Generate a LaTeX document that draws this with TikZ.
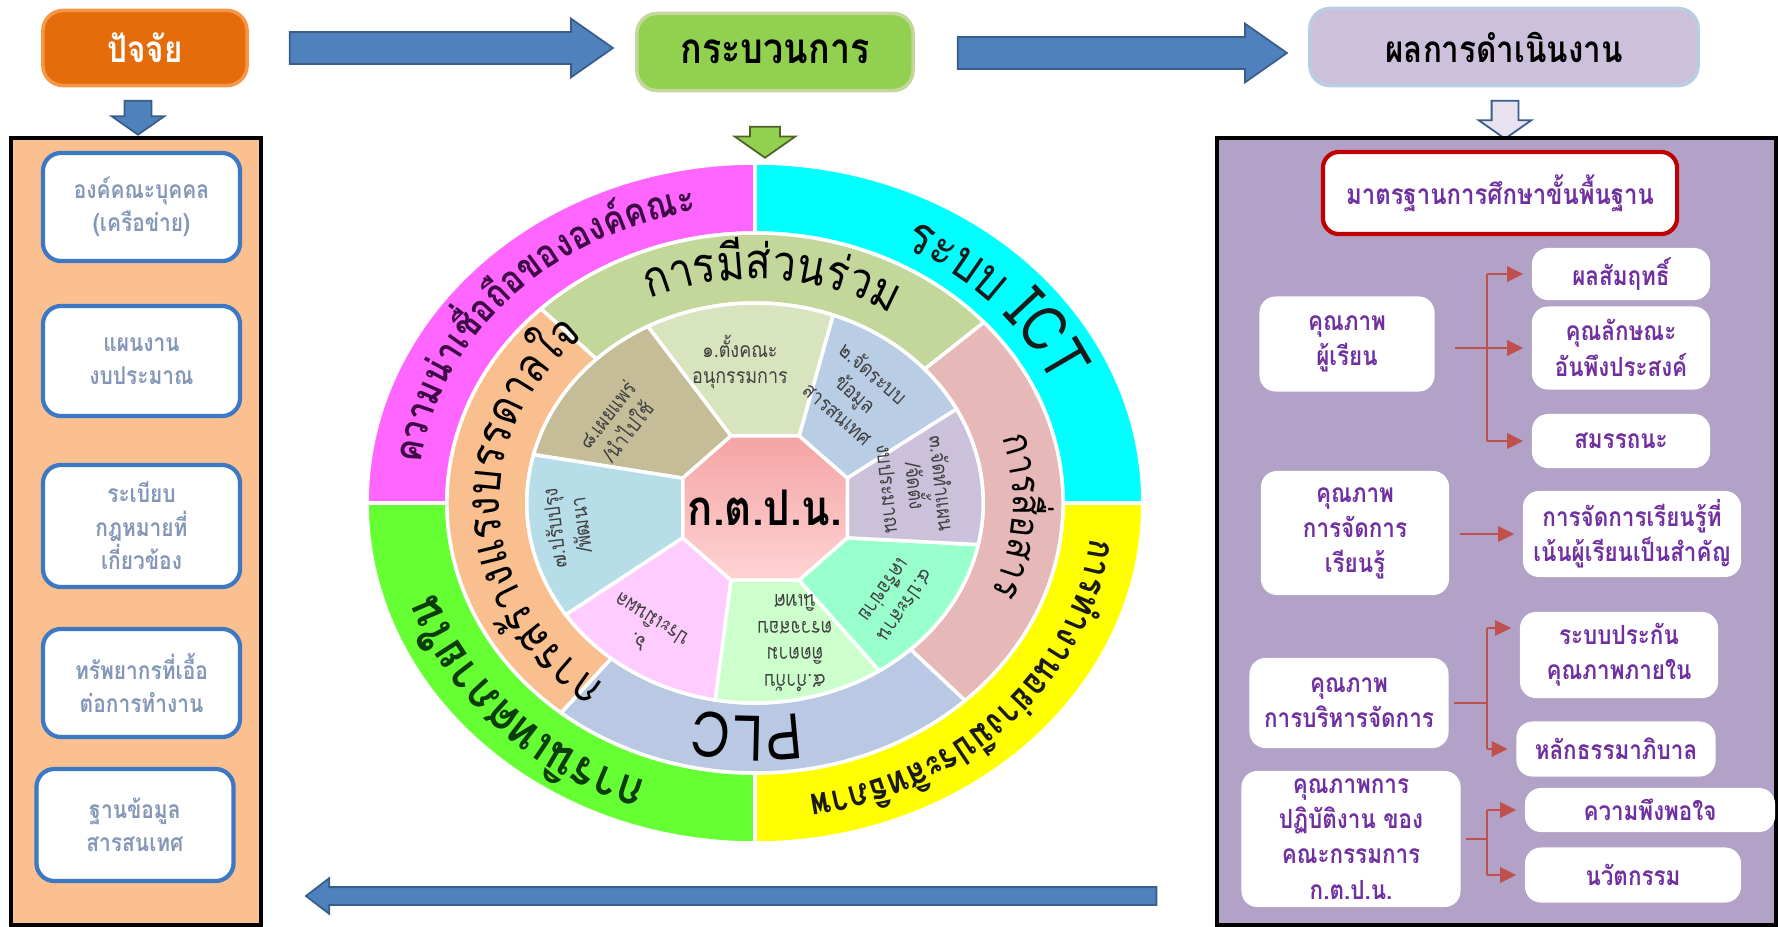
\documentclass[tikz,border=0pt]{standalone}
\usepackage{fontspec}
\setmainfont[Script=Thai, FakeStretch=0.85]{Loma}
\usetikzlibrary{shapes.arrows, arrows.meta, decorations.text}

\definecolor{factorbg}{HTML}{E46C0A}
\definecolor{factoredge}{HTML}{F79646}
\definecolor{processbg}{HTML}{92D050}
\definecolor{processedge}{HTML}{C3D69B}
\definecolor{processdark}{HTML}{4F6228}
\definecolor{resultbg}{HTML}{CCC0DA}
\definecolor{resultedge}{HTML}{B9CDE5}
\definecolor{resultlight}{HTML}{E8E2F0}
\definecolor{arrowblue}{HTML}{4F81BD}
\definecolor{arrowedge}{HTML}{385D8A}
\definecolor{leftpanel}{HTML}{FAC090}
\definecolor{rightpanel}{HTML}{B3A2C7}
\definecolor{boxblue}{HTML}{3C78C3}
\definecolor{lefttext}{HTML}{8497B8}
\definecolor{purpletext}{HTML}{7030A0}
\definecolor{redline}{HTML}{C0504D}
\definecolor{stdred}{HTML}{C00000}
\definecolor{ringmag}{HTML}{FF66FF}
\definecolor{ringcyan}{HTML}{00FFFF}
\definecolor{ringyel}{HTML}{FFFF00}
\definecolor{ringgreen}{HTML}{66FF33}
\definecolor{midgreen}{HTML}{C4D79B}
\definecolor{midorange}{HTML}{FABF8F}
\definecolor{midblue}{HTML}{B9C9E3}
\definecolor{midrose}{HTML}{E6B9B8}
\definecolor{inA}{HTML}{D7E4BD}
\definecolor{inB}{HTML}{B9CDE5}
\definecolor{inC}{HTML}{CCC1DA}
\definecolor{inD}{HTML}{99FFCC}
\definecolor{inE}{HTML}{CCFFCC}
\definecolor{inF}{HTML}{FFCCFF}
\definecolor{inG}{HTML}{B7DEE8}
\definecolor{inH}{HTML}{C4BD97}
\definecolor{octtop}{HTML}{FFD3D3}
\definecolor{octbot}{HTML}{F4A4A4}
\definecolor{ringink}{HTML}{1A1A1A}
\definecolor{maginkt}{HTML}{3D0A45}
\definecolor{greenink}{HTML}{0B3D0B}
\definecolor{inink}{HTML}{404040}

\begin{document}
\begin{tikzpicture}[x=0.01cm, y=-0.01cm,
    headbox/.style={rounded corners=2mm, line width=1pt, inner sep=0pt,
      font=\fontsize{10.5}{12}\selectfont\bfseries},
    blockarrow/.style={single arrow, inner xsep=0pt, single arrow tip angle=70,
      fill=arrowblue, draw=arrowedge, line width=0.5pt},
    downarrow/.style={blockarrow, inner ysep=0pt, single arrow tip angle=110, shape border rotate=270},
    panel/.style={draw=black, line width=1.2pt, inner sep=0pt},
    leftbox/.style={fill=white, draw=boxblue, line width=1.2pt, rounded corners=1.8mm,
      minimum width=19.7mm, align=center, text=lefttext, inner sep=0pt,
      font=\fontsize{7}{9.5}\selectfont\bfseries},
    rbox/.style={fill=white, rounded corners=1.6mm, align=center, text=purpletext,
      inner sep=0pt, font=\fontsize{7.5}{10}\selectfont\bfseries},
    branchline/.style={draw=redline, line width=0.8pt},
    redtip/.style={branchline, shorten >=0.8mm, -{Triangle[length=1.6mm, width=1.5mm]}},
    sector/.style={draw=white, line width=1pt},
    ringword/.style={decorate, decoration={text along path, text align=center, text color=#1}},
    intext/.style={inner sep=0pt, align=center, font=\fontsize{6}{7.6}\selectfont, text=inink},
  ]
\useasboundingbox (0,0) rectangle (1778,927);

% header
\node[headbox, fill=factorbg, draw=factoredge, text=white, minimum width=20.4mm,
  minimum height=7.5mm] (factor) at (145,48) {ปัจจัย};
\node[headbox, fill=processbg, draw=processedge, minimum width=27.6mm, minimum height=7.7mm,
  font=\fontsize{12}{14}\selectfont\bfseries] (process) at (775,52) {กระบวนการ};
\node[headbox, fill=resultbg, draw=resultedge, minimum width=38.8mm,
  minimum height=7.7mm] (result) at (1504,47) {ผลการดำเนินงาน};

\node[blockarrow, minimum height=32.3mm, inner ysep=1.5mm,
  single arrow head extend=1.35mm] (toprocess) at (440,48) {};
\node[blockarrow, minimum height=32.9mm, inner ysep=1.5mm,
  single arrow head extend=1.35mm] (toresult) at (1111,53) {};
\node[blockarrow, minimum height=85mm, inner ysep=0.8mm, single arrow head extend=0.9mm,
  single arrow tip angle=75, shape border rotate=180] (feedback) at (737,896) {};

\node[downarrow, minimum height=3.4mm, inner xsep=1.25mm,
  single arrow head extend=1.3mm] (downfactor) at (138,113) {};
\node[downarrow, fill=processbg, draw=processdark, minimum height=3.1mm, inner xsep=1.4mm,
  single arrow head extend=1.55mm] (downprocess) at (765,137) {};
\node[downarrow, fill=resultlight, draw=arrowedge, minimum height=3.8mm, inner xsep=1.25mm,
  single arrow head extend=1.3mm] (downresult) at (1505,115) {};

% factors
\node[panel, fill=leftpanel, minimum width=25mm, minimum height=78.7mm] (factors) at (136,531.5) {};
\node[leftbox, minimum height=10.8mm] (people) at (141.5,207) {องค์คณะบุคคล\\(เครือข่าย)};
\node[leftbox, minimum height=11mm] (plan) at (141.5,361) {แผนงาน\\งบประมาณ};
\node[leftbox, minimum height=12.2mm] (rules) at (141.5,526) {ระเบียบ\\กฎหมายที่\\เกี่ยวข้อง};
\node[leftbox, minimum height=10.8mm] (resources) at (141.5,683) {ทรัพยากรที่เอื้อ\\ต่อการทำงาน};
\node[leftbox, minimum height=11.2mm] (database) at (135,825) {ฐานข้อมูล\\สารสนเทศ};

% results
\node[panel, fill=rightpanel, minimum width=55.9mm, minimum height=78.7mm] (results) at (1496.5,531.5) {};
\node[rbox, draw=stdred, line width=1.2pt, minimum width=35.4mm, minimum height=8.2mm,
  font=\fontsize{8}{10}\selectfont\bfseries] (standard) at (1500,193) {มาตรฐานการศึกษาขั้นพื้นฐาน};
\node[rbox, minimum width=17.5mm, minimum height=9.5mm] (learner) at (1347,344) {คุณภาพ\\ผู้เรียน};
\node[rbox, minimum width=17.8mm, minimum height=5.2mm] (achieve) at (1621,274) {ผลสัมฤทธิ์};
\node[rbox, minimum width=17.8mm, minimum height=8.3mm] (character) at (1621,348) {คุณลักษณะ\\อันพึงประสงค์};
\node[rbox, minimum width=17.8mm, minimum height=5.4mm] (competency) at (1621,441) {สมรรถนะ};
\node[rbox, minimum width=18.8mm, minimum height=12.4mm] (teaching) at (1355,533) {คุณภาพ\\การจัดการ\\เรียนรู้};
\node[rbox, minimum width=21.8mm, minimum height=8.6mm] (childcentred) at (1632,534) {การจัดการเรียนรู้ที่\\เน้นผู้เรียนเป็นสำคัญ};
\node[rbox, minimum width=19.9mm, minimum height=9mm] (management) at (1349,703) {คุณภาพ\\การบริหารจัดการ};
\node[rbox, minimum width=19.8mm, minimum height=8.6mm] (qa) at (1619,655) {ระบบประกัน\\คุณภาพภายใน};
\node[rbox, minimum width=19.9mm, minimum height=5.5mm] (governance) at (1616,749) {หลักธรรมาภิบาล};
\node[rbox, minimum width=21.9mm, minimum height=13.6mm] (board) at (1351,839) {คุณภาพการ\\ปฏิบัติงาน ของ\\คณะกรรมการ\\ก.ต.ป.น.};
\node[rbox, minimum width=25mm, minimum height=4.4mm] (satisfaction) at (1650,810) {ความพึงพอใจ};
\node[rbox, minimum width=21.6mm, minimum height=5.5mm] (innovation) at (1633,875) {นวัตกรรม};

\coordinate (fork) at (1487,0);
\coordinate (qain) at ([yshift=2.7mm]qa.west);
\draw[redtip, shorten <=2mm] (learner.east |- character.west) -- (character.west);
\draw[branchline] (fork |- achieve.west) -- (fork |- competency.west);
\draw[redtip] (fork |- achieve.west) -- (achieve.west);
\draw[redtip] (fork |- competency.west) -- (competency.west);
\draw[redtip, shorten <=1mm] (teaching.east |- childcentred.west) -- (childcentred.west);
\draw[branchline, shorten <=0.5mm] (management.east) -- (fork |- management.east);
\draw[branchline] (fork |- qain) -- (fork |- governance.west);
\draw[redtip] (fork |- qain) -- (qain);
\draw[redtip] (fork |- governance.west) -- (governance.west);
\draw[branchline, shorten <=0.5mm] (board.east) -- (fork |- board.east);
\draw[branchline] (fork |- satisfaction.west) -- (fork |- innovation.west);
\draw[redtip] (fork |- satisfaction.west) -- (satisfaction.west);
\draw[redtip] (fork |- innovation.west) -- (innovation.west);

% process wheel
\begin{scope}[shift={(755,503)}, xscale=1.141, yscale=-1]
  \foreach \a/\b/\c in {90/180/ringmag, 0/90/ringcyan, -90/0/ringyel, 180/270/ringgreen}
    \filldraw[sector, fill=\c] (\a:270) arc[start angle=\a, end angle=\b, radius=270]
      -- (\b:340) arc[start angle=\b, end angle=\a, radius=340] -- cycle;
  \foreach \a/\b/\c in {42/134/midgreen, 134/231/midorange, 231/313/midblue, -47/42/midrose}
    \filldraw[sector, fill=\c] (\a:200) arc[start angle=\a, end angle=\b, radius=200]
      -- (\b:270) arc[start angle=\b, end angle=\a, radius=270] -- cycle;
  \foreach \k [evaluate=\k as \w using 22.5+45*\k] in {0,...,8}
    \coordinate (v\k) at ([shift={(8.8,-5)}]\w:78);
  \foreach \p/\q/\s/\e/\c in {0/1/28/70/inB, 1/2/70/118/inA, 2/3/118/166/inH, 3/4/166/214/inG,
      4/5/214/260/inF, 5/6/260/303/inE, 6/7/303/348/inD, 7/8/348/388/inC}
    \filldraw[sector, fill=\c] (v\p) -- (\s:200) arc[start angle=\s, end angle=\e, radius=200]
      -- (v\q) -- cycle;
  \shadedraw[top color=octbot, bottom color=octtop, draw=white, line width=1pt]
    (v0) -- (v1) -- (v2) -- (v3) -- (v4) -- (v5) -- (v6) -- (v7) -- cycle;
  \node[font=\fontsize{14}{16}\selectfont\bfseries] (ktpn) at (8.8,-5) {ก.ต.ป.น.};
\end{scope}

% ring words, clockwise round the centre (755,503)
\path[ringword=maginkt, decoration={text={|\fontsize{11}{13}\selectfont\bfseries|%
    {ค}{ว}{า}{ม}{น่}{า}{เ}{ชื่}{อ}{ถื}{อ}{ข}{อ}{ง}{อ}{ง}{ค์}{ค}{ณ}{ะ}}}]
  ([shift={(755,503)}]-178:337.7 and 296) arc[start angle=-178, end angle=-95, x radius=337.7, y radius=296];
\path[ringword=ringink, decoration={text={|\fontsize{15}{17}\selectfont|%
    {ร}{ะ}{บ}{บ} |\fontsize{18}{20}\selectfont|ICT}}]
  ([shift={(755,503)}]-88:327.5 and 287) arc[start angle=-88, end angle=4, x radius=327.5, y radius=287];
\path[ringword=ringink, decoration={text={|\fontsize{10.5}{12}\selectfont\bfseries|%
    {ก}{า}{ร}{ทำ}{ง}{า}{น}{อ}{ย่}{า}{ง}{มี}{ป}{ร}{ะ}{สิ}{ท}{ธิ}{ภ}{า}{พ}}}]
  ([shift={(755,503)}]2:337.7 and 296) arc[start angle=2, end angle=85, x radius=337.7, y radius=296];
\path[ringword=greenink, decoration={text={|\fontsize{14}{16}\selectfont\bfseries|%
    {ก}{า}{ร}{นิ}{เ}{ท}{ศ}{ภ}{า}{ย}{ใ}{น}}}]
  ([shift={(755,503)}]-266:335.5 and 294) arc[start angle=-266, end angle=-181, x radius=335.5, y radius=294];

\path[ringword=black, decoration={text={|\fontsize{14}{16}\selectfont|%
    {ก}{า}{ร}{มี}{ส่}{ว}{น}{ร่}{ว}{ม}}}]
  ([shift={(755,503)}]-132:255.6 and 224) arc[start angle=-132, end angle=-40, x radius=255.6, y radius=224];
\path[ringword=black, decoration={text={|\fontsize{11.5}{14}\selectfont|%
    {ก}{า}{ร}{สื่}{อ}{ส}{า}{ร}}}]
  ([shift={(755,503)}]-38:257.9 and 226) arc[start angle=-38, end angle=44, x radius=257.9, y radius=226];
\path[ringword=black, decoration={text={|\fontsize{18}{20}\selectfont|PLC}}]
  ([shift={(755,503)}]52:243 and 213) arc[start angle=52, end angle=132, x radius=243, y radius=213];
\path[ringword=black, decoration={text={|\fontsize{13.5}{15}\selectfont|%
    {ก}{า}{ร}{ส}{ร้}{า}{ง}{แ}{ร}{ง}{บ}{ร}{ร}{ด}{า}{ล}{ใ}{จ}}}]
  ([shift={(755,503)}]-234:255.6 and 224) arc[start angle=-234, end angle=-132, x radius=255.6, y radius=224];

% inner steps
\node[intext] (step1) at (740,362) {๑.ตั้งคณะ\\อนุกรรมการ};
\node[intext, rotate=-41] (step2) at (856,393) {๒.จัดระบบ\\ข้อมูล\\สารสนเทศ};
\node[intext, rotate=-84] (step3) at (916,486) {๓.จัดทำแผน\\/จัดตั้ง\\งบประมาณ};
\node[intext, rotate=-125] (step4) at (895,598) {๔.ประสาน\\เครือข่าย};
\node[intext, rotate=180] (step5) at (795,643) {๕.กำกับ\\ติดตาม\\ตรวจสอบ\\นิเทศ};
\node[intext, rotate=148] (step6) at (645,630) {๖.\\ประเมินผล};
\node[intext, rotate=97] (step7) at (567,527) {๗.ปรับปรุง\\/พัฒนา};
\node[intext, rotate=52] (step8) at (617,423) {๘.เผยแพร่\\/นำไปใช้};
\end{tikzpicture}
\end{document}
